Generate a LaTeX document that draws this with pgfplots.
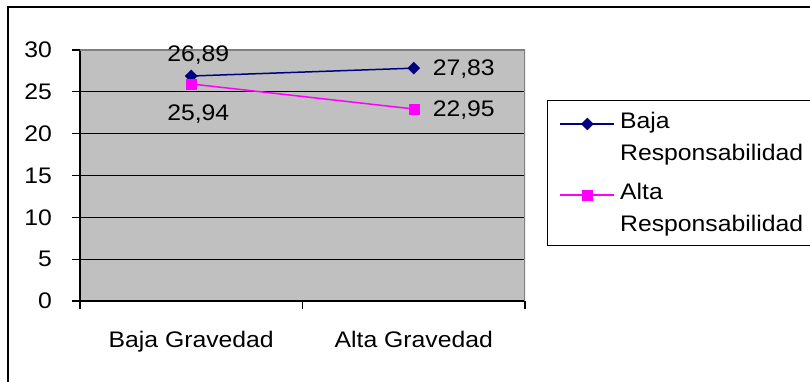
\documentclass[border=0pt]{standalone}
\usepackage{pgfplots}
\pgfplotsset{compat=1.18}
\usepackage{pgfplotstable}
\usepackage{fontspec}
\setmainfont{Liberation Sans}[FakeStretch=1.1]
\definecolor{plotgray}{RGB}{192,192,192}
\definecolor{bordergray}{RGB}{128,128,128}
\definecolor{serieA}{RGB}{0,0,128}
\definecolor{serieB}{RGB}{255,0,255}

\pgfplotstableread{
x y lab dx dy
0.5 26.89 26,89 7 15
1.5 27.83 27,83 50 -7.5
}\baja
\pgfplotstableread{
x y lab dx dy
0.5 25.94 25,94 7 -37
1.5 22.95 22,95 50 -8
}\alta

\newcommand{\fs}{\fontsize{22.5bp}{32bp}\selectfont}

\begin{document}
\begin{tikzpicture}[x=1bp,y=1bp]
\useasboundingbox (0,0) rectangle (810,381);
\draw[line width=2bp] (8,-5) -- (8,374) -- (815,374);
\begin{axis}[
  at={(80bp,80bp)}, anchor=origin,
  scale only axis, width=445bp, height=251bp,
  xmin=0, xmax=2, ymin=0, ymax=30,
  axis x line*=bottom, axis y line*=left,
  axis line style={line width=1.5bp, black},
  ytick={0,5,...,30},
  xtick={0,1,2}, xticklabels={},
  extra x ticks={0.5,1.5},
  extra x tick labels={Baja Gravedad,Alta Gravedad},
  extra x tick style={major tick length=0pt},
  tick align=outside, major tick length=8bp,
  tick style={black, line width=1.3bp},
  ymajorgrids, major grid style={black, line width=1.3bp},
  axis background/.style={fill=plotgray},
  /pgf/number format/assume math mode=true,
  ticklabel style={font=\fs, inner sep=0pt},
  yticklabel style={anchor=east, xshift=-20bp},
  xticklabel style={anchor=base, yshift=-46bp},
  legend style={at={(1.0494,0.8008)}, anchor=north west, draw=black,
    line width=1.3bp, fill=white, font=\fs, inner xsep=12bp, inner ysep=12bp,
    nodes={inner sep=0pt}, column sep=5bp, row sep=21bp,
    cells={align=left, anchor=base west}},
  legend image code/.code={%
    \draw[mark repeat=2, mark phase=2, #1] plot coordinates {(0bp,37bp) (27bp,37bp) (54bp,37bp)};},
  nodes near coords,
  point meta=explicit symbolic,
  visualization depends on={\thisrow{dx} \as \dx},
  visualization depends on={\thisrow{dy} \as \dy},
  every node near coord/.append style={font=\fs, text=black, anchor=base,
    inner sep=0pt, xshift=\dx bp, yshift=\dy bp},
]
\addplot[serieA, line width=1.5bp, mark=square*, mark size=4.25bp,
  mark options={solid, rotate=45, line width=0.4bp}]
  table[x=x, y=y, meta=lab] {\baja};
\addlegendentry{Baja\\Responsabilidad\hspace*{12bp}}
\addplot[serieB, line width=1.5bp, mark=square*, mark size=5bp,
  mark options={solid, line width=0.4bp}]
  table[x=x, y=y, meta=lab] {\alta};
\addlegendentry{Alta\\Responsabilidad\hspace*{12bp}}
\draw[bordergray, line width=1.5bp] (rel axis cs:0,1) -- (rel axis cs:1,1) -- (rel axis cs:1,0);
\end{axis}
\end{tikzpicture}
\end{document}
